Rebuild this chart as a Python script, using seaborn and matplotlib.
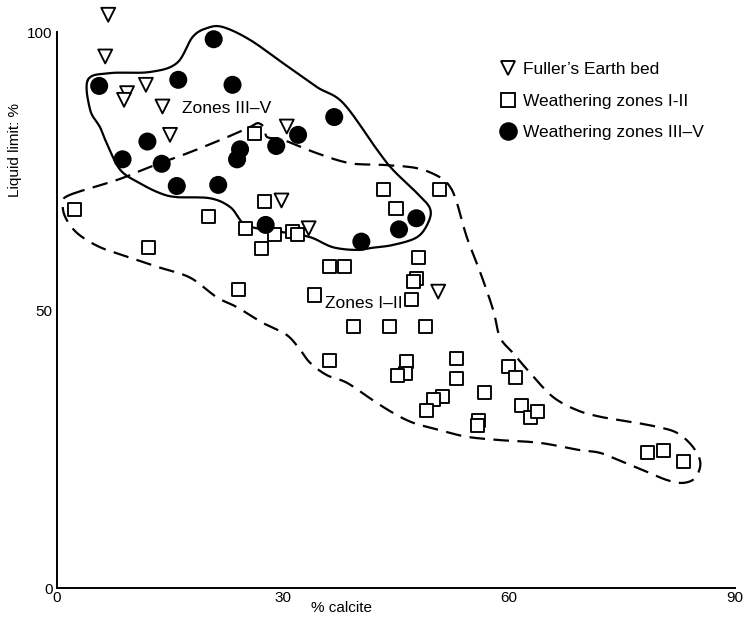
import numpy as np
import pandas as pd
import matplotlib
matplotlib.use("Agg")
import matplotlib.pyplot as plt
from matplotlib.lines import Line2D
import seaborn as sns

# ---------------- data ----------------
fuller_x = [6.8, 6.4, 11.8, 9.3, 8.9, 14.0, 15.0, 30.5, 29.8, 33.4, 50.6]
fuller_y = [103.1, 95.6, 90.5, 89.0, 87.8, 86.6, 81.5, 83.0, 69.7, 64.7, 53.3]

zone12_x = [26.2, 2.3, 20.1, 27.6, 25.0, 28.9, 31.2, 31.9, 27.1, 12.2, 36.2, 38.2,
            24.1, 34.2, 43.3, 50.8, 45.0, 48.0, 47.7, 47.3, 47.1, 39.3, 44.2, 48.9,
            36.2, 46.4, 46.3, 45.2, 53.0, 53.0, 59.9, 60.8, 51.2, 50.0, 49.1, 56.8,
            55.9, 55.8, 61.6, 62.8, 63.8, 78.4, 80.5, 83.1]
zone12_y = [81.7, 68.1, 66.9, 69.5, 64.6, 63.5, 64.2, 63.5, 61.1, 61.3, 57.8, 57.9,
            53.7, 52.7, 71.6, 71.7, 68.2, 59.5, 55.7, 55.2, 51.9, 47.0, 47.0, 47.0,
            41.0, 40.7, 38.6, 38.3, 41.3, 37.6, 39.8, 37.8, 34.5, 33.9, 32.0, 35.1,
            30.2, 29.3, 32.9, 30.7, 31.7, 24.4, 24.8, 22.7]

zone35_x = [20.8, 5.6, 16.1, 23.3, 36.8, 32.0, 12.0, 8.7, 13.9, 24.3, 23.9, 29.1,
            15.9, 21.4, 27.7, 47.7, 45.4, 40.4]
zone35_y = [98.7, 90.3, 91.4, 90.5, 84.7, 81.5, 80.3, 77.1, 76.3, 78.9, 77.1, 79.5,
            72.3, 72.5, 65.3, 66.5, 64.5, 62.3]

group_labels = ["Fuller\u2019s Earth bed", "Weathering zones I-II", "Weathering zones III\u2013V"]

# envelope outlines (hand-drawn boundaries)
env35_x = [4.1, 7.0, 12.3, 15.9, 18.0, 19.9, 22.0, 25.6, 30.0, 34.5, 38.0, 42.5, 44.6,
           47.8, 49.5, 49.3, 47.8, 44.6, 41.9, 39.8, 36.6, 33.6, 30.0, 26.5, 24.7,
           23.0, 20.3, 15.9, 13.7, 11.0, 8.4, 6.6, 5.7, 4.4]
env35_y = [91.4, 92.6, 92.8, 94.4, 99.1, 100.7, 100.9, 98.6, 94.4, 90.1, 87.2, 78.8, 75.2,
           71.0, 68.3, 65.8, 63.1, 61.7, 61.2, 60.8, 61.3, 63.1, 64.0, 64.7, 65.6,
           68.5, 70.1, 70.3, 71.0, 72.8, 75.2, 80.0, 82.9, 86.0]

env12_x = [1.7, 8.0, 12.3, 17.7, 22.6, 25.6, 26.7, 27.6, 27.9, 30.0, 34.5, 38.9, 43.3,
           47.8, 50.8, 52.2, 53.1, 54.4, 56.2, 57.9, 58.8, 60.5, 62.8, 65.8, 69.0,
           72.1, 76.1, 79.6, 82.3, 84.4, 85.4, 84.7, 83.1, 81.0, 78.3, 75.1, 72.1,
           69.4, 64.1, 58.8, 54.4, 50.8, 47.3, 44.6, 41.9, 38.5, 35.8, 33.6, 32.3,
           30.5, 27.3, 23.9, 21.2, 17.7, 13.7, 9.7, 5.7, 2.7, 1.1, 0.8]
env12_y = [70.7, 73.4, 75.7, 78.4, 81.1, 82.9, 83.6, 82.7, 81.1, 80.6, 78.2, 76.4, 76.1,
           75.5, 73.9, 72.1, 69.2, 63.1, 56.7, 50.0, 45.1, 42.3, 38.7, 34.4, 32.0,
           30.8, 29.9, 29.0, 27.9, 25.4, 22.5, 19.8, 18.9, 19.4, 20.9, 22.7, 24.3,
           24.8, 26.1, 26.6, 27.2, 28.4, 29.7, 31.5, 33.8, 36.9, 38.3, 40.5, 42.8,
           45.5, 47.7, 50.5, 52.3, 55.8, 57.6, 59.4, 61.3, 63.8, 66.7, 69.2]

x_ticks = [0, 30, 60, 90]
y_ticks = [0, 50, 100]


def smooth_closed(xs, ys, n=10):
    P = np.column_stack([xs, ys])
    N = len(P)
    t = np.linspace(0, 1, n, endpoint=False)[:, None]
    out = []
    for i in range(N):
        p0, p1, p2, p3 = P[(i - 1) % N], P[i], P[(i + 1) % N], P[(i + 2) % N]
        pts = 0.5 * ((2 * p1) + (-p0 + p2) * t + (2 * p0 - 5 * p1 + 4 * p2 - p3) * t ** 2
                     + (-p0 + 3 * p1 - 3 * p2 + p3) * t ** 3)
        out.append(pts)
    out.append(P[:1])
    return np.vstack(out)


df = pd.DataFrame({
    "x": fuller_x + zone12_x + zone35_x,
    "y": fuller_y + zone12_y + zone35_y,
    "group": [group_labels[0]] * len(fuller_x) + [group_labels[1]] * len(zone12_x)
             + [group_labels[2]] * len(zone35_x),
})

sns.set_theme(style="white")
plt.rcParams["font.family"] = ["Liberation Sans", "DejaVu Sans"]
plt.rcParams.update({"text.color": "black", "axes.labelcolor": "black",
                     "xtick.color": "black", "ytick.color": "black"})

fig = plt.figure(figsize=(7.45, 6.25), dpi=100)
ax = fig.add_axes([57 / 745, 37 / 625, 678 / 745, 556 / 625])

# envelopes
s35 = smooth_closed(env35_x, env35_y)
ax.plot(s35[:, 0], s35[:, 1], color="black", lw=1.6, clip_on=False, zorder=1)
s12 = smooth_closed(env12_x, env12_y)
ax.plot(s12[:, 0], s12[:, 1], color="black", lw=1.6, dashes=(7, 3.8), clip_on=False, zorder=1)

markers = {group_labels[0]: "v", group_labels[1]: "s", group_labels[2]: "o"}
palette = {group_labels[0]: "white", group_labels[1]: "white", group_labels[2]: "black"}
sizes = {group_labels[0]: 100, group_labels[1]: 88, group_labels[2]: 135}

sns.scatterplot(data=df, x="x", y="y", hue="group", style="group", size="group",
                markers=markers, palette=palette, sizes=sizes,
                edgecolor="black", linewidth=1.35, legend=False, ax=ax, zorder=3)
for c in ax.collections:
    c.set_clip_on(False)

ax.set_xlim(0, 90)
ax.set_ylim(0, 100)
ax.set_xticks(x_ticks)
ax.set_yticks(y_ticks)
ax.set_xticklabels([str(v) for v in x_ticks], fontsize=11)
ax.set_yticklabels([str(v) for v in y_ticks], fontsize=11)
ax.tick_params(direction="in", length=5, width=1.3, color="black", labelcolor="black", pad=3)
ax.tick_params(axis="x", pad=2)
for side in ["top", "right"]:
    ax.spines[side].set_visible(False)
for side in ["left", "bottom"]:
    ax.spines[side].set_color("black")
    ax.spines[side].set_linewidth(1.4)
ax.set_xlabel("% calcite", fontsize=11, color="black")
ax.xaxis.set_label_coords((342 - 57) / 678, -(608 - 588) / 556)
ax.xaxis.label.set_va("center")
ax.set_ylabel("")
fig.text(15 / 745, 1 - 150 / 625, "Liquid limit: %", rotation=90, fontsize=11,
         ha="center", va="center", color="black")
ax.grid(False)

ax.text(16.6, 86.3, "Zones III\u2013V", fontsize=12.5, ha="left", va="center", color="black")
ax.text(35.6, 51.1, "Zones I\u2013II", fontsize=12.5, ha="left", va="center", color="black")

handles = [
    Line2D([], [], marker="v", ls="", mfc="white", mec="black", mew=1.35, ms=10.5),
    Line2D([], [], marker="s", ls="", mfc="white", mec="black", mew=1.35, ms=9.5),
    Line2D([], [], marker="o", ls="", mfc="black", mec="black", mew=1.35, ms=12),
]
leg = ax.legend(handles, group_labels, loc="upper left", bbox_to_anchor=(492 / 745, 1 - 55 / 625),
                bbox_transform=fig.transFigure, frameon=False, fontsize=12.5, handlelength=1.0,
                handletextpad=0.4, labelspacing=0.95, borderaxespad=0)
for t in leg.get_texts():
    t.set_color("black")

fig.savefig("out.png", dpi=100)
